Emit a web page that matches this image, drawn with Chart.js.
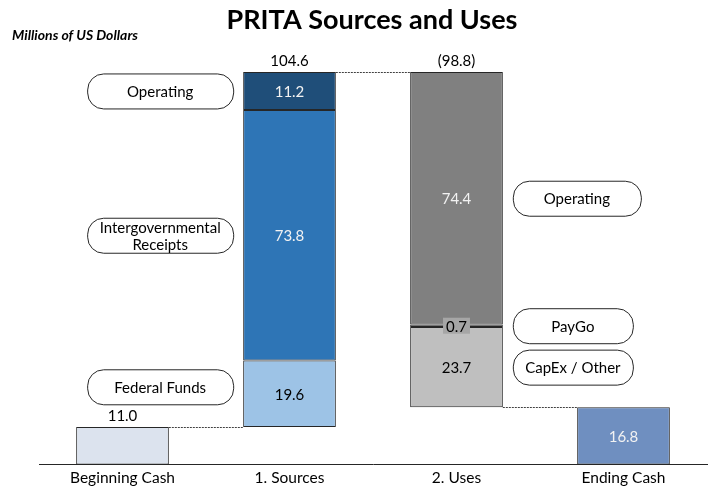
<!DOCTYPE html>
<html>
<head>
<meta charset="utf-8">
<script src="https://cdn.jsdelivr.net/npm/chart.js@4.4.1/dist/chart.umd.min.js"></script>
<style>
  html, body { margin: 0; padding: 0; background: #fff; }
  #wrap { width: 708px; height: 491px; position: relative; }
</style>
</head>
<body>
<div id="wrap"><canvas id="chart"></canvas></div>
<script>
// Data (millions of US dollars)
const categories = ['Beginning Cash', '1. Sources', '2. Uses', 'Ending Cash'];
const beginningCash = 11.0;
const sourceNames = ['Federal Funds', 'Intergovernmental Receipts', 'Operating'];
const sourceValues = [19.6, 73.8, 11.2];
const useNames = ['Operating', 'PayGo', 'CapEx / Other'];
const useValues = [74.4, 0.7, 23.7];
const endingCash = 16.8;
const totalLabels = ['11.0', '104.6', '(98.8)', '16.8'];

const FONT = 'Lato, "Open Sans", sans-serif';
const sourceColors = ['#9dc3e6', '#2e75b6', '#1f4e79'];
const useColors = ['#808080', '#595959', '#bfbfbf'];
const sourceText = ['#000', '#f2f2f2', '#f2f2f2'];
const useText = ['#f2f2f2', '#000', '#000'];

// build floating segments
const datasets = [];
function single(idx, range) {
    const arr = [null, null, null, null];
    arr[idx] = range;
    return arr;
}
datasets.push({
    label: 'Beginning Cash',
    data: single(0, [0, beginningCash]),
    backgroundColor: '#dce3ee',
    valueText: null,
    textColor: '#000'
});
let level = beginningCash;
sourceValues.forEach((v, i) => {
    datasets.push({
        label: sourceNames[i],
        data: single(1, [level, level + v]),
        backgroundColor: sourceColors[i],
        valueText: v.toFixed(1),
        textColor: sourceText[i],
        callout: { name: sourceNames[i], side: 'left', dy: i === 0 ? -7 : 0 }
    });
    level += v;
});
const topLevel = level;
useValues.forEach((v, i) => {
    datasets.push({
        label: useNames[i],
        data: single(2, [level - v, level]),
        backgroundColor: useColors[i],
        valueText: v.toFixed(1),
        textColor: useText[i],
        labelBox: i === 1 ? '#a6a6a6' : null,
        callout: { name: useNames[i], side: 'right', dy: 0 }
    });
    level -= v;
});
datasets.push({
    label: 'Ending Cash',
    data: single(3, [0, endingCash]),
    backgroundColor: '#6f8fc0',
    valueText: endingCash.toFixed(1),
    textColor: '#f2f2f2'
});
datasets.forEach(d => {
    d.grouped = false;
    d.borderColor = '#262626';
    d.borderWidth = 1;
    d.borderSkipped = false;
    d.categoryPercentage = 1.0;
    d.barPercentage = 0.555;
});

function roundRect(ctx, x, y, w, h, r) {
    ctx.beginPath();
    ctx.moveTo(x + r, y);
    ctx.lineTo(x + w - r, y);
    ctx.arcTo(x + w, y, x + w, y + r, r);
    ctx.lineTo(x + w, y + h - r);
    ctx.arcTo(x + w, y + h, x + w - r, y + h, r);
    ctx.lineTo(x + r, y + h);
    ctx.arcTo(x, y + h, x, y + h - r, r);
    ctx.lineTo(x, y + r);
    ctx.arcTo(x, y, x + r, y, r);
    ctx.closePath();
}

const decorations = {
    id: 'decorations',
    afterDatasetsDraw(chart) {
        const ctx = chart.ctx;
        const y = chart.scales.y;
        ctx.save();

        // connectors
        const barOf = (dsIndex, cat) => chart.getDatasetMeta(dsIndex).data[cat];
        const nS = sourceValues.length, nU = useValues.length;
        const links = [
            [barOf(0, 0), barOf(1, 1), beginningCash],
            [barOf(nS, 1), barOf(nS + 1, 2), topLevel],
            [barOf(nS + nU, 2), barOf(nS + nU + 1, 3), endingCash]
        ];
        ctx.strokeStyle = '#404040';
        ctx.lineWidth = 1;
        ctx.setLineDash([2, 1]);
        links.forEach(([a, b, v]) => {
            const py = Math.round(y.getPixelForValue(v)) + 0.5;
            ctx.beginPath();
            ctx.moveTo(a.x + a.width / 2, py);
            ctx.lineTo(b.x - b.width / 2, py);
            ctx.stroke();
        });
        ctx.setLineDash([]);

        // segment values and callouts
        ctx.textAlign = 'center';
        ctx.textBaseline = 'middle';
        chart.data.datasets.forEach((ds, di) => {
            const meta = chart.getDatasetMeta(di);
            ds.data.forEach((r, ci) => {
                if (!r) return;
                const el = meta.data[ci];
                const cy = y.getPixelForValue((r[0] + r[1]) / 2);
                if (ds.valueText) {
                    ctx.font = '15px ' + FONT;
                    if (ds.labelBox) {
                        const tw = ctx.measureText(ds.valueText).width;
                        ctx.fillStyle = ds.labelBox;
                        ctx.fillRect(el.x - tw / 2 - 3, cy - 8, tw + 6, 16);
                    }
                    ctx.fillStyle = ds.textColor;
                    ctx.fillText(ds.valueText, el.x, cy + 1);
                }
                if (ds.callout) {
                    const c = ds.callout;
                    const lines = c.name === 'Intergovernmental Receipts' ? ['Intergovernmental', 'Receipts'] : [c.name];
                    const w = c.side === 'left' ? 146 : (c.name === 'Operating' ? 128 : 120);
                    const h = 35;
                    const bx = c.side === 'left' ? el.x - el.width / 2 - 10 - w : el.x + el.width / 2 + 10;
                    const by = cy + c.dy - h / 2;
                    roundRect(ctx, bx + 0.5, by + 0.5, w, h, 16);
                    ctx.fillStyle = '#fff';
                    ctx.fill();
                    ctx.strokeStyle = '#262626';
                    ctx.lineWidth = 1;
                    ctx.stroke();
                    ctx.fillStyle = '#000';
                    ctx.font = '15px ' + FONT;
                    lines.forEach((t, k) => {
                        ctx.fillText(t, bx + w / 2, by + h / 2 + 1 + (k - (lines.length - 1) / 2) * 17);
                    });
                }
            });
        });

        // totals above bars
        ctx.font = '15px ' + FONT;
        ctx.fillStyle = '#000';
        const tops = [beginningCash, topLevel, topLevel];
        [0, 1, 2].forEach(ci => {
            const x = chart.scales.x.getPixelForValue(ci);
            ctx.fillText(totalLabels[ci], x, y.getPixelForValue(tops[ci]) - 11);
        });

        // titles
        ctx.font = 'bold 27px ' + FONT;
        ctx.fillText('PRITA Sources and Uses', 372, 20);
        ctx.font = 'italic bold 14px ' + FONT;
        ctx.textAlign = 'left';
        ctx.fillText('Millions of US Dollars', 12, 35);
        ctx.restore();
    }
};

new Chart(document.getElementById('chart'), {
    type: 'bar',
    data: { labels: categories, datasets: datasets },
    options: {
        responsive: true,
        maintainAspectRatio: false,
        animation: false,
        layout: { padding: { left: 39, right: 1, top: 57, bottom: 0 } },
        plugins: { legend: { display: false }, tooltip: { enabled: false }, title: { display: false } },
        scales: {
            x: {
                grid: { display: false, drawTicks: false },
                border: { display: true, color: '#262626', width: 1 },
                ticks: { color: '#000', font: { family: FONT, size: 15.5 }, padding: 4 }
            },
            y: { display: false, min: 0, max: 120 }
        }
    },
    plugins: [decorations]
});
</script>
</body>
</html>
